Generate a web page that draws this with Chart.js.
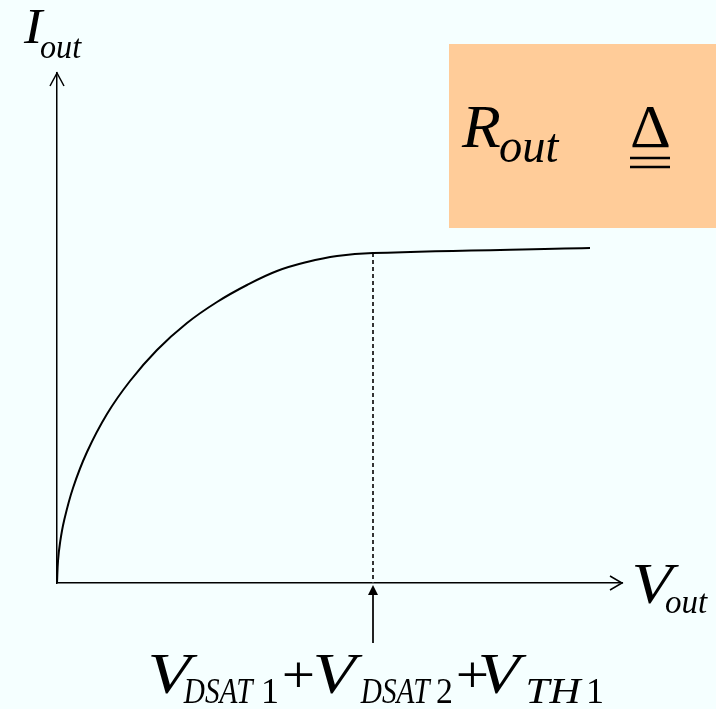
<!DOCTYPE html>
<html>
<head>
<meta charset="utf-8">
<script src="https://cdn.jsdelivr.net/npm/chart.js@4.4.1/dist/chart.umd.min.js"></script>
<style>
  html, body { margin: 0; padding: 0; background: #F5FFFF; overflow: hidden; }
  canvas { display: block; }
</style>
</head>
<body>
<canvas id="c" width="716" height="709"></canvas>
<script>
// Output characteristic of the cascode current source (arbitrary units)
const vout = [0, 0.01, 0.03, 0.07, 0.16, 0.30, 0.50, 0.73, 1.00, 1.30, 1.60, 1.90, 2.20, 2.50, 2.80, 3.16, 5.33];
const iout = [0, 0.22, 0.40, 0.62, 0.95, 1.31, 1.69, 2.02, 2.33, 2.60, 2.81, 2.98, 3.12, 3.21, 3.27, 3.30, 3.35];

// Knee of the curve: V_DSAT1 + V_DSAT2 + V_TH1
const vKnee = 3.16;
const iKnee = 3.30;

// Pointer under the axis marking the knee voltage
const pointerFrom = -0.60;
const pointerTo = -0.08;

// Axis extents
const xMax = 5.65;
const yMax = 5.10;

const BG = '#F5FFFF';
const BOX = '#FFCC99';
const SERIF = '"Liberation Serif", "Times New Roman", serif';

// Draw a text run so that its ink starts at `left` and, if `right` is given, ends at `right`.
function inkText(ctx, t, left, base, size, italic, right) {
  ctx.font = (italic ? 'italic ' : '') + size + 'px ' + SERIF;
  const m = ctx.measureText(t);
  const inkW = m.actualBoundingBoxLeft + m.actualBoundingBoxRight;
  const sx = right ? (right - left) / inkW : 1;
  ctx.save();
  ctx.translate(left, base);
  ctx.scale(sx, 1);
  ctx.fillText(t, m.actualBoundingBoxLeft, 0);
  ctx.restore();
}

const decorations = {
  id: 'decorations',
  beforeDraw(chart) {
    const ctx = chart.ctx;
    ctx.save();
    ctx.fillStyle = BG;
    ctx.fillRect(0, 0, chart.width, chart.height);
    ctx.fillStyle = BOX;
    ctx.fillRect(449, 44, 267, 184);
    ctx.restore();
  },
  afterDraw(chart) {
    const ctx = chart.ctx;
    const x = chart.scales.x, y = chart.scales.y;
    const x0 = x.getPixelForValue(0), y0 = y.getPixelForValue(0);
    const xEnd = x.getPixelForValue(xMax), yEnd = y.getPixelForValue(yMax);
    ctx.save();
    // open arrowheads on the axes
    ctx.strokeStyle = '#000';
    ctx.lineWidth = 1.5;
    ctx.beginPath();
    ctx.moveTo(x0 - 7, yEnd + 13); ctx.lineTo(x0, yEnd); ctx.lineTo(x0 + 7, yEnd + 13);
    ctx.moveTo(xEnd - 12, y0 - 7); ctx.lineTo(xEnd, y0); ctx.lineTo(xEnd - 12, y0 + 7);
    ctx.stroke();

    // filled head of the knee pointer
    const px = x.getPixelForValue(vKnee);
    const tip = y.getPixelForValue(0) + 2;
    ctx.fillStyle = '#000';
    ctx.beginPath();
    ctx.moveTo(px, tip);
    ctx.lineTo(px + 5, tip + 10);
    ctx.lineTo(px - 5, tip + 10);
    ctx.closePath();
    ctx.fill();

    // labels
    ctx.textBaseline = 'alphabetic';
    inkText(ctx, 'I', 23, 43, 50, true, 45);
    inkText(ctx, 'out', 40, 58, 33, true, 82);

    inkText(ctx, 'R', 461, 147, 62, true, 500);
    inkText(ctx, 'out', 500, 162, 48, true, 560);
    inkText(ctx, '\u0394', 632, 147, 62, false, 669);

    inkText(ctx, 'V', 635, 603, 58, true, 680);
    inkText(ctx, 'out', 665, 613, 33, true, 708);

    inkText(ctx, 'V', 150, 693, 56, true, 198);
    inkText(ctx, 'DSAT', 183, 703, 36, true, 255);
    inkText(ctx, '1', 264, 703, 36, false, 277);
    inkText(ctx, '+', 284, 692, 53, false, 313);
    inkText(ctx, 'V', 315, 693, 56, true, 363);
    inkText(ctx, 'DSAT', 360, 703, 36, true, 432);
    inkText(ctx, '2', 437, 703, 36, false, 452);
    inkText(ctx, '+', 458, 692, 53, false, 487);
    inkText(ctx, 'V', 480, 693, 56, true, 527);
    inkText(ctx, 'TH', 528, 703, 36, true, 583);
    inkText(ctx, '1', 589, 703, 36, false, 602);

    // double underline of the "defined as" sign
    ctx.lineWidth = 2.5;
    ctx.beginPath();
    ctx.moveTo(630, 158); ctx.lineTo(670, 158);
    ctx.moveTo(630, 167); ctx.lineTo(670, 167);
    ctx.stroke();
    ctx.restore();
  }
};

new Chart(document.getElementById('c'), {
  type: 'line',
  data: {
    datasets: [
      {
        label: 'Iout',
        data: vout.map((v, i) => ({ x: v, y: iout[i] })),
        borderColor: '#000',
        borderWidth: 2,
        pointRadius: 0,
        tension: 0.4,
        fill: false
      },
      {
        label: 'knee',
        data: [{ x: vKnee, y: iKnee }, { x: vKnee, y: 0 }],
        borderColor: '#333',
        borderWidth: 2,
        borderDash: [4, 3],
        pointRadius: 0,
        fill: false
      },
      {
        label: 'pointer',
        data: [{ x: vKnee, y: pointerFrom }, { x: vKnee, y: pointerTo }],
        borderColor: '#222',
        borderWidth: 2,
        pointRadius: 0,
        clip: false,
        fill: false
      }
    ]
  },
  options: {
    responsive: false,
    animation: false,
    devicePixelRatio: 1,
    layout: { padding: { left: 57, top: 73, right: 94, bottom: 126 } },
    plugins: { legend: { display: false }, tooltip: { enabled: false }, title: { display: false } },
    events: [],
    scales: {
      x: {
        type: 'linear', min: 0, max: xMax,
        grid: { display: false, drawTicks: false },
        ticks: { display: false },
        border: { display: true, color: '#000', width: 1.5 }
      },
      y: {
        type: 'linear', min: 0, max: yMax,
        grid: { display: false, drawTicks: false },
        ticks: { display: false },
        border: { display: true, color: '#000', width: 1.5 }
      }
    }
  },
  plugins: [decorations]
});
</script>
</body>
</html>
